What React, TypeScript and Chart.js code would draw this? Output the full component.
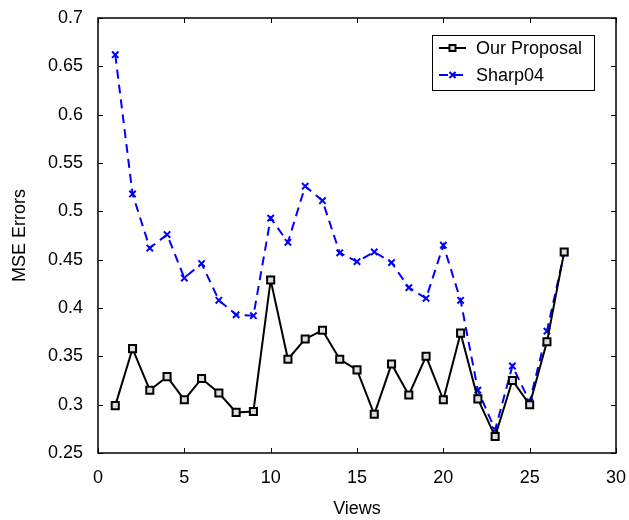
import React, { useEffect, useRef } from "react";
import { Chart, registerables } from "chart.js";

Chart.register(...registerables);

const views = [1, 2, 3, 4, 5, 6, 7, 8, 9, 10, 11, 12, 13, 14, 15, 16, 17, 18, 19, 20, 21, 22, 23, 24, 25, 26, 27];
const ourProposal = [0.299, 0.358, 0.315, 0.329, 0.305, 0.327, 0.312, 0.292, 0.293, 0.429, 0.347, 0.368, 0.377, 0.347, 0.336, 0.290, 0.342, 0.310, 0.350, 0.305, 0.374, 0.306, 0.267, 0.325, 0.300, 0.365, 0.458];
const sharp04 = [0.662, 0.518, 0.462, 0.476, 0.431, 0.446, 0.408, 0.393, 0.392, 0.493, 0.468, 0.526, 0.511, 0.457, 0.448, 0.458, 0.447, 0.421, 0.410, 0.465, 0.408, 0.315, 0.274, 0.340, 0.303, 0.376, 0.457];
const seriesNames = ["Our Proposal", "Sharp04"];
const xTicks = [0, 5, 10, 15, 20, 25, 30];
const yTicks = [0.25, 0.3, 0.35, 0.4, 0.45, 0.5, 0.55, 0.6, 0.65, 0.7];
const xTitle = "Views";
const yTitle = "MSE Errors";

const FONT = "'Liberation Sans', Arial, Helvetica, sans-serif";
const FS = 18;

const framePlugin = {
  id: "frame",
  afterDatasetsDraw(chart: any) {
    const { ctx, chartArea: a, scales } = chart;
    const xs = scales.x;
    const ys = scales.y;
    ctx.save();
    ctx.strokeStyle = "#000";
    ctx.lineWidth = 1.5;
    ctx.strokeRect(a.left, a.top, a.right - a.left, a.bottom - a.top);
    const tl = 5;
    ctx.lineWidth = 1;
    ctx.beginPath();
    xTicks.forEach((v) => {
      const px = Math.round(xs.getPixelForValue(v)) + 0.5;
      ctx.moveTo(px, a.bottom);
      ctx.lineTo(px, a.bottom - tl);
      ctx.moveTo(px, a.top);
      ctx.lineTo(px, a.top + tl);
    });
    yTicks.forEach((v) => {
      const py = Math.round(ys.getPixelForValue(v)) + 0.5;
      ctx.moveTo(a.left, py);
      ctx.lineTo(a.left + tl, py);
      ctx.moveTo(a.right, py);
      ctx.lineTo(a.right - tl, py);
    });
    ctx.stroke();

    // legend
    const bx = 432, by = 35, bw = 162, bh = 55;
    ctx.fillStyle = "#fff";
    ctx.fillRect(bx, by, bw, bh);
    ctx.strokeStyle = "#000";
    ctx.lineWidth = 1;
    ctx.strokeRect(bx + 0.5, by + 0.5, bw, bh);
    chart.data.datasets.forEach((ds: any, i: number) => {
      const cy = by + 13 + i * 27;
      ctx.save();
      ctx.strokeStyle = ds.borderColor;
      ctx.lineWidth = ds.borderWidth;
      ctx.setLineDash(ds.borderDash || []);
      ctx.beginPath();
      ctx.moveTo(bx + 7, cy);
      ctx.lineTo(bx + 34, cy);
      ctx.stroke();
      ctx.restore();
      ctx.save();
      ctx.strokeStyle = ds.pointBorderColor;
      ctx.fillStyle = ds.pointBackgroundColor;
      ctx.lineWidth = ds.pointBorderWidth;
      const mx = bx + 20.5;
      if (ds.pointStyle === "rect") {
        ctx.fillRect(mx - 3, cy - 3, 6, 6);
        ctx.strokeRect(mx - 3, cy - 3, 6, 6);
      } else {
        ctx.beginPath();
        ctx.moveTo(mx - 3, cy - 3);
        ctx.lineTo(mx + 3, cy + 3);
        ctx.moveTo(mx + 3, cy - 3);
        ctx.lineTo(mx - 3, cy + 3);
        ctx.stroke();
      }
      ctx.restore();
      ctx.fillStyle = "#000";
      ctx.font = `${FS}px ${FONT}`;
      ctx.textBaseline = "middle";
      ctx.textAlign = "left";
      ctx.fillText(ds.label, bx + 44, cy + 1);
    });
    ctx.restore();
  },
};

export default function App() {
  const ref = useRef<HTMLCanvasElement | null>(null);
  useEffect(() => {
    if (!ref.current) return;
    const chart = new Chart(ref.current, {
      type: "line",
      data: {
        datasets: [
          {
            label: seriesNames[0],
            data: views.map((v, i) => ({ x: v, y: ourProposal[i] })),
            borderColor: "#000",
            borderWidth: 2,
            pointStyle: "rect",
            pointRadius: 5,
            pointBorderWidth: 2,
            pointBorderColor: "#000",
            pointBackgroundColor: "#ddd",
            fill: false,
            tension: 0,
          },
          {
            label: seriesNames[1],
            data: views.map((v, i) => ({ x: v, y: sharp04[i] })),
            borderColor: "#0000ff",
            borderWidth: 2,
            borderDash: [9, 6],
            pointStyle: "crossRot",
            pointRadius: 4.5,
            pointBorderWidth: 2,
            pointBorderColor: "#0000ff",
            pointBackgroundColor: "#0000ff",
            fill: false,
            tension: 0,
          },
        ],
      },
      options: {
        responsive: false,
        animation: false,
        layout: { padding: { top: 18, right: 13, left: 0, bottom: 0 } },
        plugins: { legend: { display: false }, tooltip: { enabled: false } },
        scales: {
          x: {
            type: "linear",
            min: 0,
            max: 30,
            afterBuildTicks: (s: any) => {
              s.ticks = xTicks.map((v) => ({ value: v }));
            },
            afterFit: (s: any) => {
              s.height = 67;
              s.paddingLeft = 0;
              s.paddingRight = 0;
            },
            grid: { display: false, drawTicks: false },
            border: { display: false },
            ticks: {
              color: "#000",
              padding: 14,
              maxRotation: 0,
              font: { family: FONT, size: FS },
              callback: (v: any) => String(v),
            },
            title: {
              display: true,
              text: xTitle,
              color: "#000",
              font: { family: FONT, size: FS },
              padding: { top: 0, bottom: 0 },
            },
          },
          y: {
            type: "linear",
            min: 0.25,
            max: 0.7,
            afterBuildTicks: (s: any) => {
              s.ticks = yTicks.map((v) => ({ value: v }));
            },
            afterFit: (s: any) => {
              s.width = 98;
              s.paddingTop = 0;
              s.paddingBottom = 0;
            },
            grid: { display: false, drawTicks: false },
            border: { display: false },
            ticks: {
              color: "#000",
              padding: 15,
              font: { family: FONT, size: FS },
              callback: (v: any) => String(parseFloat(Number(v).toFixed(2))),
            },
            title: {
              display: true,
              text: yTitle,
              color: "#000",
              font: { family: FONT, size: FS },
              padding: { top: 9, bottom: 0 },
            },
          },
        },
      },
      plugins: [framePlugin],
    } as any);
    return () => chart.destroy();
  }, []);
  return (
    <div style={{ position: "absolute", left: 0, top: 0, width: 629, height: 520, background: "#fff" }}>
      <canvas ref={ref} width={629} height={520} style={{ display: "block" }} />
    </div>
  );
}
